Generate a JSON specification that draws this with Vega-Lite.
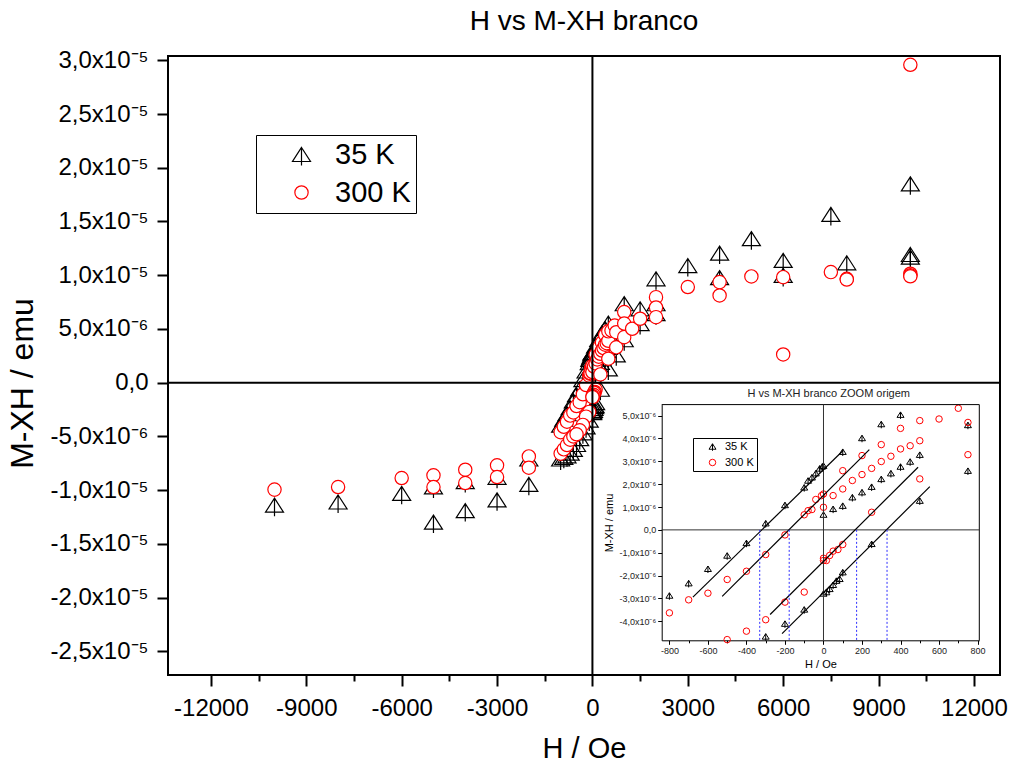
{
  "$schema": "https://vega.github.io/schema/vega-lite/v6.json",
  "width": 832,
  "height": 619,
  "autosize": {"type": "none"},
  "padding": {"left": 168, "top": 56, "right": 12, "bottom": 95},
  "background": "white",
  "config": {
    "font": "Liberation Sans",
    "view": {"stroke": "black", "strokeWidth": 2},
    "axis": {"grid": false, "labelColor": "black", "titleColor": "black", "tickColor": "black", "domainColor": "black"}
  },
  "title": {"text": "H vs M-XH branco", "fontSize": 28, "fontWeight": "normal", "font": "Liberation Sans", "color": "black", "anchor": "middle", "offset": 12},
  "datasets": {
    "pts": [
      {"T":"35 K","H":-10000,"M":-11.4e-6},{"T":"35 K","H":-8000,"M":-11.1e-6},{"T":"35 K","H":-6000,"M":-10.3e-6},{"T":"35 K","H":-5000,"M":-12.97e-6},{"T":"35 K","H":-5000,"M":-9.7e-6},{"T":"35 K","H":-4000,"M":-11.9e-6},{"T":"35 K","H":-4000,"M":-9.2e-6},{"T":"35 K","H":-3000,"M":-10.9e-6},{"T":"35 K","H":-3000,"M":-8.8e-6},{"T":"35 K","H":-2000,"M":-9.46e-6},{"T":"35 K","H":-2000,"M":-7.1e-6},
      {"T":"35 K","H":-1000,"M":-3.95e-6},{"T":"35 K","H":-900,"M":-3.4e-6},{"T":"35 K","H":-1000,"M":-7.1e-6},{"T":"35 K","H":-900,"M":-6.95e-6},{"T":"35 K","H":-800,"M":-6.8e-6},{"T":"35 K","H":-700,"M":-6.55e-6},{"T":"35 K","H":-600,"M":-6.2e-6},{"T":"35 K","H":-500,"M":-5.75e-6},{"T":"35 K","H":-400,"M":-5.2e-6},
      {"T":"35 K","H":-800,"M":-2.87e-6},{"T":"35 K","H":-700,"M":-2.33e-6},{"T":"35 K","H":-600,"M":-1.7e-6},{"T":"35 K","H":-500,"M":-1.12e-6},{"T":"35 K","H":-400,"M":-0.57e-6},{"T":"35 K","H":-300,"M":0.29e-6},{"T":"35 K","H":-200,"M":1.09e-6},{"T":"35 K","H":-100,"M":1.86e-6},{"T":"35 K","H":-80,"M":2.16e-6},{"T":"35 K","H":-60,"M":2.3e-6},{"T":"35 K","H":-40,"M":2.48e-6},{"T":"35 K","H":-20,"M":2.69e-6},{"T":"35 K","H":-6,"M":2.78e-6},{"T":"35 K","H":0,"M":2.81e-6},{"T":"35 K","H":100,"M":3.42e-6},{"T":"35 K","H":200,"M":4.02e-6},{"T":"35 K","H":300,"M":4.63e-6},{"T":"35 K","H":400,"M":5.04e-6},{"T":"35 K","H":500,"M":5.55e-6},{"T":"35 K","H":750,"M":4.59e-6},
      {"T":"35 K","H":-300,"M":-4.66e-6},{"T":"35 K","H":-200,"M":-4.1e-6},{"T":"35 K","H":-100,"M":-3.48e-6},{"T":"35 K","H":0,"M":-2.78e-6},{"T":"35 K","H":15,"M":-2.72e-6},{"T":"35 K","H":32,"M":-2.58e-6},{"T":"35 K","H":50,"M":-2.4e-6},{"T":"35 K","H":67,"M":-2.22e-6},{"T":"35 K","H":84,"M":-2.14e-6},{"T":"35 K","H":100,"M":-1.85e-6},{"T":"35 K","H":250,"M":-0.61e-6},{"T":"35 K","H":500,"M":1.28e-6},{"T":"35 K","H":750,"M":2.59e-6},
      {"T":"35 K","H":0,"M":0.67e-6},{"T":"35 K","H":50,"M":0.92e-6},{"T":"35 K","H":100,"M":1.06e-6},{"T":"35 K","H":150,"M":1.43e-6},{"T":"35 K","H":200,"M":1.65e-6},{"T":"35 K","H":250,"M":1.89e-6},{"T":"35 K","H":300,"M":2.23e-6},{"T":"35 K","H":350,"M":2.48e-6},{"T":"35 K","H":400,"M":2.77e-6},{"T":"35 K","H":450,"M":2.99e-6},{"T":"35 K","H":500,"M":3.29e-6},
      {"T":"35 K","H":1000,"M":7.35e-6},{"T":"35 K","H":1000,"M":5.6e-6},{"T":"35 K","H":1000,"M":4.0e-6},{"T":"35 K","H":1500,"M":6.88e-6},{"T":"35 K","H":1500,"M":5.5e-6},{"T":"35 K","H":2000,"M":9.67e-6},{"T":"35 K","H":2000,"M":7.35e-6},{"T":"35 K","H":2000,"M":6.42e-6},{"T":"35 K","H":3000,"M":10.9e-6},{"T":"35 K","H":4000,"M":12.06e-6},{"T":"35 K","H":4000,"M":9.77e-6},{"T":"35 K","H":5000,"M":13.4e-6},{"T":"35 K","H":6000,"M":11.38e-6},{"T":"35 K","H":6000,"M":9.98e-6},{"T":"35 K","H":7500,"M":15.66e-6},{"T":"35 K","H":8000,"M":11.16e-6},{"T":"35 K","H":10000,"M":18.5e-6},{"T":"35 K","H":10000,"M":11.93e-6},{"T":"35 K","H":10000,"M":11.68e-6},
      {"T":"300 K","H":-10000,"M":-9.95e-6},{"T":"300 K","H":-8000,"M":-9.71e-6},{"T":"300 K","H":-6000,"M":-8.87e-6},{"T":"300 K","H":-5000,"M":-8.62e-6},{"T":"300 K","H":-5000,"M":-9.71e-6},{"T":"300 K","H":-4000,"M":-8.1e-6},{"T":"300 K","H":-4000,"M":-9.34e-6},{"T":"300 K","H":-3000,"M":-7.69e-6},{"T":"300 K","H":-3000,"M":-8.78e-6},{"T":"300 K","H":-2000,"M":-6.86e-6},{"T":"300 K","H":-2000,"M":-7.91e-6},
      {"T":"300 K","H":-1000,"M":-4.6e-6},{"T":"300 K","H":-900,"M":-4.1e-6},{"T":"300 K","H":-1000,"M":-6.6e-6},{"T":"300 K","H":-900,"M":-6.2e-6},{"T":"300 K","H":-800,"M":-5.8e-6},{"T":"300 K","H":-700,"M":-5.3e-6},{"T":"300 K","H":-600,"M":-5.0e-6},
      {"T":"300 K","H":-800,"M":-3.63e-6},{"T":"300 K","H":-700,"M":-3.06e-6},{"T":"300 K","H":-600,"M":-2.77e-6},{"T":"300 K","H":-500,"M":-2.17e-6},{"T":"300 K","H":-400,"M":-1.81e-6},{"T":"300 K","H":-300,"M":-1.08e-6},{"T":"300 K","H":-200,"M":-0.22e-6},{"T":"300 K","H":-100,"M":0.66e-6},{"T":"300 K","H":-80,"M":0.84e-6},{"T":"300 K","H":-60,"M":0.89e-6},{"T":"300 K","H":-40,"M":1.33e-6},{"T":"300 K","H":-10,"M":1.5e-6},{"T":"300 K","H":0,"M":1.57e-6},{"T":"300 K","H":0,"M":0.99e-6},{"T":"300 K","H":50,"M":1.5e-6},{"T":"300 K","H":100,"M":1.79e-6},{"T":"300 K","H":100,"M":2.59e-6},{"T":"300 K","H":150,"M":2.16e-6},{"T":"300 K","H":200,"M":2.42e-6},{"T":"300 K","H":200,"M":3.25e-6},{"T":"300 K","H":250,"M":2.69e-6},{"T":"300 K","H":300,"M":2.99e-6},{"T":"300 K","H":300,"M":3.73e-6},{"T":"300 K","H":350,"M":3.22e-6},{"T":"300 K","H":400,"M":3.54e-6},{"T":"300 K","H":400,"M":4.44e-6},{"T":"300 K","H":450,"M":3.68e-6},{"T":"300 K","H":500,"M":3.9e-6},{"T":"300 K","H":500,"M":4.78e-6},{"T":"300 K","H":600,"M":4.85e-6},{"T":"300 K","H":700,"M":5.32e-6},{"T":"300 K","H":750,"M":4.7e-6},{"T":"300 K","H":750,"M":3.29e-6},{"T":"300 K","H":500,"M":2.23e-6},{"T":"300 K","H":250,"M":0.77e-6},{"T":"300 K","H":100,"M":-0.64e-6},{"T":"300 K","H":75,"M":-0.86e-6},{"T":"300 K","H":50,"M":-0.93e-6},{"T":"300 K","H":32,"M":-1.12e-6},{"T":"300 K","H":15,"M":-1.34e-6},{"T":"300 K","H":0,"M":-1.24e-6},{"T":"300 K","H":0,"M":-1.34e-6},{"T":"300 K","H":-100,"M":-2.72e-6},{"T":"300 K","H":-200,"M":-3.16e-6},{"T":"300 K","H":-300,"M":-3.93e-6},{"T":"300 K","H":-400,"M":-4.43e-6},{"T":"300 K","H":-500,"M":-4.8e-6},
      {"T":"300 K","H":1000,"M":6.57e-6},{"T":"300 K","H":1000,"M":5.5e-6},{"T":"300 K","H":1000,"M":4.24e-6},{"T":"300 K","H":1250,"M":5.02e-6},{"T":"300 K","H":1500,"M":5.95e-6},{"T":"300 K","H":2000,"M":7.96e-6},{"T":"300 K","H":2000,"M":7.0e-6},{"T":"300 K","H":2000,"M":6.1e-6},{"T":"300 K","H":3000,"M":8.9e-6},{"T":"300 K","H":4000,"M":9.36e-6},{"T":"300 K","H":4000,"M":8.12e-6},{"T":"300 K","H":5000,"M":9.89e-6},{"T":"300 K","H":6000,"M":9.82e-6},{"T":"300 K","H":6000,"M":2.63e-6},{"T":"300 K","H":7500,"M":10.29e-6},{"T":"300 K","H":8000,"M":9.67e-6},{"T":"300 K","H":8000,"M":9.6e-6},{"T":"300 K","H":10000,"M":29.58e-6},{"T":"300 K","H":10000,"M":10.14e-6},{"T":"300 K","H":10000,"M":10.0e-6},{"T":"300 K","H":10000,"M":9.9e-6}
    ],
    "fits": [
      {"H1":-678,"M1":-2.94e-6,"H2":102,"M2":3.47e-6},
      {"H1":-526,"M1":-2.91e-6,"H2":238,"M2":3.51e-6},
      {"H1":-277,"M1":-3.70e-6,"H2":491,"M2":2.74e-6},
      {"H1":-215,"M1":-4.54e-6,"H2":552,"M2":1.89e-6}
    ],
    "coercive": [{"Hc":-331},{"Hc":-178},{"Hc":172},{"Hc":330}],
    "one": [{}]
  },
  "layer": [
    {
      "layer": [
        {
          "data": {"name": "pts"},
          "mark": {"type": "point", "opacity": 1, "strokeWidth": 1.2},
          "encoding": {
            "x": {"field": "H", "type": "quantitative", "title": "H / Oe", "scale": {"domain": [-13350, 12820], "nice": false, "zero": false},
              "axis": {"title": "H / Oe", "values": [-12000,-10500,-9000,-7500,-6000,-4500,-3000,-1500,0,1500,3000,4500,6000,7500,9000,10500,12000],
                "labelExpr": "datum.value % 3000 == 0 ? (datum.value < 0 ? '-' : '') + abs(datum.value) : ''",
                "tickSize": {"condition": {"test": "datum.value % 3000 == 0", "value": 11}, "value": 6},
                "tickWidth": 2, "domain": false, "labelFontSize": 24, "labelPadding": 10, "labelOverlap": false, "labelFlush": false, "labelBound": false,
                "titleFontSize": 29, "titleFontWeight": "normal", "titlePadding": 14}},
            "y": {"field": "M", "type": "quantitative", "title": "M-XH / emu", "scale": {"domain": [-27.2e-6, 30.4e-6], "nice": false, "zero": false},
              "axis": {"title": "M-XH / emu", "values": [-25e-6,-22.5e-6,-20e-6,-17.5e-6,-15e-6,-12.5e-6,-10e-6,-7.5e-6,-5e-6,-2.5e-6,0,2.5e-6,5e-6,7.5e-6,10e-6,12.5e-6,15e-6,17.5e-6,20e-6,22.5e-6,25e-6,27.5e-6,30e-6],
                "labelExpr": "round(datum.value*1e7) % 50 != 0 ? '' : datum.value == 0 ? '0,0' : (datum.value < 0 ? '-' : '') + (abs(datum.value) > 9.9e-6 ? replace(format(abs(datum.value)*1e5, '.1f'), '.', ',') + 'x10⁻⁵' : replace(format(abs(datum.value)*1e6, '.1f'), '.', ',') + 'x10⁻⁶')",
                "tickSize": {"condition": {"test": "round(datum.value*1e7) % 50 == 0", "value": 11}, "value": 6},
                "tickWidth": 2, "domain": false, "labelFontSize": 24, "labelPadding": 9, "labelOverlap": false, "labelFlush": false, "labelBound": false,
                "titleFontSize": 32, "titleFontWeight": "normal", "titlePadding": 11, "titleY": 327}},
            "shape": {"field": "T", "type": "nominal", "scale": {"domain": ["35 K", "300 K"], "range": ["M0,-0.78L1,0.78L-1,0.78Z M0,-0.78L0,1.22", "circle"]},
              "legend": {"title": null, "orient": "none", "legendX": 88, "legendY": 79, "padding": 5, "strokeColor": "black", "fillColor": "white", "labelFontSize": 29, "labelColor": "black", "symbolOffset": 26, "labelOffset": 19, "rowPadding": 8, "symbolStrokeWidth": 1.2}},
            "stroke": {"field": "T", "type": "nominal", "scale": {"domain": ["35 K", "300 K"], "range": ["black", "red"]},
              "legend": {"title": null, "orient": "none", "legendX": 88, "legendY": 79, "padding": 5, "strokeColor": "black", "fillColor": "white", "labelFontSize": 29, "labelColor": "black", "symbolOffset": 26, "labelOffset": 19, "rowPadding": 8, "symbolStrokeWidth": 1.2}},
            "fill": {"field": "T", "type": "nominal", "scale": {"domain": ["35 K", "300 K"], "range": ["transparent", "white"]},
              "legend": {"title": null, "orient": "none", "legendX": 88, "legendY": 79, "padding": 5, "strokeColor": "black", "fillColor": "white", "labelFontSize": 29, "labelColor": "black", "symbolOffset": 26, "labelOffset": 19, "rowPadding": 8, "symbolStrokeWidth": 1.2}},
            "size": {"field": "T", "type": "nominal", "scale": {"domain": ["35 K", "300 K"], "range": [324, 177]},
              "legend": {"title": null, "orient": "none", "legendX": 88, "legendY": 79, "padding": 5, "strokeColor": "black", "fillColor": "white", "labelFontSize": 29, "labelColor": "black", "symbolOffset": 26, "labelOffset": 19, "rowPadding": 8, "symbolStrokeWidth": 1.2}}
          }
        },
        {
          "data": {"name": "one"},
          "mark": {"type": "rule", "strokeWidth": 2, "color": "black"},
          "encoding": {"x": {"datum": 0, "type": "quantitative", "title": "H / Oe", "scale": {"domain": [-13350, 12820], "nice": false, "zero": false}}}
        },
        {
          "data": {"name": "one"},
          "mark": {"type": "rule", "strokeWidth": 2, "color": "black"},
          "encoding": {"y": {"datum": 0, "type": "quantitative", "title": "M-XH / emu", "scale": {"domain": [-27.2e-6, 30.4e-6], "nice": false, "zero": false}}}
        }
      ]
    },
    {
      "layer": [
        {
          "data": {"name": "pts"},
          "transform": [{"filter": "datum.H >= -840 && datum.H <= 809 && datum.M >= -4.85e-6 && datum.M <= 5.48e-6"}],
          "mark": {"type": "point", "opacity": 1, "strokeWidth": 1, "filled": false},
          "encoding": {
            "x": {"field": "H", "type": "quantitative", "title": "H / Oe", "scale": {"domain": [-840, 809], "range": [493.7, 811.3], "nice": false, "zero": false},
              "axis": {"orient": "bottom", "offset": -34.7, "title": "H / Oe", "values": [-800,-700,-600,-500,-400,-300,-200,-100,0,100,200,300,400,500,600,700,800],
                "labelExpr": "datum.value % 200 == 0 ? (datum.value < 0 ? '-' : '') + abs(datum.value) : ''",
                "tickSize": {"condition": {"test": "datum.value % 200 == 0", "value": 4}, "value": 2.5},
                "tickWidth": 1, "domain": true, "domainWidth": 1, "labelFontSize": 9, "labelColor": "#222", "labelPadding": 2, "labelOverlap": false, "labelFlush": false, "labelBound": false,
                "titleFontSize": 11, "titleFontWeight": "normal", "titlePadding": 3}},
            "y": {"field": "M", "type": "quantitative", "title": "M-XH / emu", "scale": {"domain": [-4.83e-6, 5.48e-6], "range": [584.3, 348.6], "nice": false, "zero": false},
              "axis": {"orient": "left", "offset": -493.7, "title": "M-XH / emu", "values": [-4e-6,-3e-6,-2e-6,-1e-6,0,1e-6,2e-6,3e-6,4e-6,5e-6],
                "labelExpr": "abs(datum.value) < 1e-9 ? '0,0' : (datum.value < 0 ? '-' : '') + abs(round(datum.value*1e6)) + ',0x10⁻⁶'",
                "tickSize": 4, "labels": true, "labelAlign": "right", "labelBaseline": "middle", "labelAngle": 0, "labelOpacity": 1, "labelLimit": 200,
                "tickWidth": 1, "domain": true, "domainWidth": 1, "labelFontSize": 9, "labelColor": "#222", "labelPadding": 2, "labelOverlap": false, "labelFlush": false, "labelBound": false,
                "titleFontSize": 11, "titleFontWeight": "normal", "titlePadding": 4}},
            "shape": {"field": "T", "type": "nominal", "scale": {"domain": ["35 K", "300 K"], "range": ["M0,-0.78L1,0.78L-1,0.78Z M0,-0.78L0,1.22", "circle"]},
              "legend": {"title": null, "orient": "none", "legendX": 525, "legendY": 382, "padding": 3, "strokeColor": "black", "fillColor": "white", "labelFontSize": 11, "labelColor": "black", "symbolOffset": 11, "labelOffset": 7, "rowPadding": 3, "symbolStrokeWidth": 1}},
            "stroke": {"field": "T", "type": "nominal", "scale": {"domain": ["35 K", "300 K"], "range": ["black", "red"]},
              "legend": {"title": null, "orient": "none", "legendX": 525, "legendY": 382, "padding": 3, "strokeColor": "black", "fillColor": "white", "labelFontSize": 11, "labelColor": "black", "symbolOffset": 11, "labelOffset": 7, "rowPadding": 3, "symbolStrokeWidth": 1}},
            "size": {"field": "T", "type": "nominal", "scale": {"domain": ["35 K", "300 K"], "range": [49, 42]},
              "legend": {"title": null, "orient": "none", "legendX": 525, "legendY": 382, "padding": 3, "strokeColor": "black", "fillColor": "white", "labelFontSize": 11, "labelColor": "black", "symbolOffset": 11, "labelOffset": 7, "rowPadding": 3, "symbolStrokeWidth": 1}}
          }
        },
        {
          "data": {"name": "one"},
          "mark": {"type": "rule", "strokeWidth": 1, "color": "black"},
          "encoding": {
            "x": {"datum": -840, "type": "quantitative", "title": "H / Oe", "scale": {"domain": [-840, 809], "range": [493.7, 811.3], "nice": false, "zero": false}},
            "x2": {"datum": 809},
            "y": {"datum": 5.48e-6, "type": "quantitative", "title": "M-XH / emu", "scale": {"domain": [-4.83e-6, 5.48e-6], "range": [584.3, 348.6], "nice": false, "zero": false}}
          }
        },
        {
          "data": {"name": "one"},
          "mark": {"type": "rule", "strokeWidth": 1, "color": "black"},
          "encoding": {
            "x": {"datum": 809, "type": "quantitative", "title": "H / Oe", "scale": {"domain": [-840, 809], "range": [493.7, 811.3], "nice": false, "zero": false}},
            "y": {"datum": -4.83e-6, "type": "quantitative", "title": "M-XH / emu", "scale": {"domain": [-4.83e-6, 5.48e-6], "range": [584.3, 348.6], "nice": false, "zero": false}},
            "y2": {"datum": 5.48e-6}
          }
        },
        {
          "data": {"name": "one"},
          "mark": {"type": "rule", "strokeWidth": 1, "color": "#333"},
          "encoding": {
            "x": {"datum": -840, "type": "quantitative", "title": "H / Oe", "scale": {"domain": [-840, 809], "range": [493.7, 811.3], "nice": false, "zero": false}},
            "x2": {"datum": 809},
            "y": {"datum": 0, "type": "quantitative", "title": "M-XH / emu", "scale": {"domain": [-4.83e-6, 5.48e-6], "range": [584.3, 348.6], "nice": false, "zero": false}}
          }
        },
        {
          "data": {"name": "one"},
          "mark": {"type": "rule", "strokeWidth": 1, "color": "#333"},
          "encoding": {
            "x": {"datum": 0, "type": "quantitative", "title": "H / Oe", "scale": {"domain": [-840, 809], "range": [493.7, 811.3], "nice": false, "zero": false}},
            "y": {"datum": -4.83e-6, "type": "quantitative", "title": "M-XH / emu", "scale": {"domain": [-4.83e-6, 5.48e-6], "range": [584.3, 348.6], "nice": false, "zero": false}},
            "y2": {"datum": 5.48e-6}
          }
        },
        {
          "data": {"name": "fits"},
          "mark": {"type": "rule", "strokeWidth": 1.2, "color": "black"},
          "encoding": {
            "x": {"field": "H1", "type": "quantitative", "title": "H / Oe", "scale": {"domain": [-840, 809], "range": [493.7, 811.3], "nice": false, "zero": false}},
            "x2": {"field": "H2"},
            "y": {"field": "M1", "type": "quantitative", "title": "M-XH / emu", "scale": {"domain": [-4.83e-6, 5.48e-6], "range": [584.3, 348.6], "nice": false, "zero": false}},
            "y2": {"field": "M2"}
          }
        },
        {
          "data": {"name": "coercive"},
          "mark": {"type": "rule", "strokeWidth": 1, "color": "#3030ff", "strokeDash": [2, 2]},
          "encoding": {
            "x": {"field": "Hc", "type": "quantitative", "title": "H / Oe", "scale": {"domain": [-840, 809], "range": [493.7, 811.3], "nice": false, "zero": false}},
            "y": {"datum": 0, "type": "quantitative", "title": "M-XH / emu", "scale": {"domain": [-4.83e-6, 5.48e-6], "range": [584.3, 348.6], "nice": false, "zero": false}},
            "y2": {"datum": -4.83e-6}
          }
        },
        {
          "data": {"name": "one"},
          "mark": {"type": "text", "text": "H vs M-XH branco ZOOM origem", "fontSize": 11, "color": "#222", "baseline": "middle", "align": "center"},
          "encoding": {
            "x": {"datum": 27, "type": "quantitative", "title": "H / Oe", "scale": {"domain": [-840, 809], "range": [493.7, 811.3], "nice": false, "zero": false}},
            "y": {"datum": 5.95e-6, "type": "quantitative", "title": "M-XH / emu", "scale": {"domain": [-4.83e-6, 5.48e-6], "range": [584.3, 348.6], "nice": false, "zero": false}}
          }
        }
      ]
    }
  ],
  "resolve": {"scale": {"x": "independent", "y": "independent", "shape": "independent", "stroke": "independent", "fill": "independent", "size": "independent"}}
}
